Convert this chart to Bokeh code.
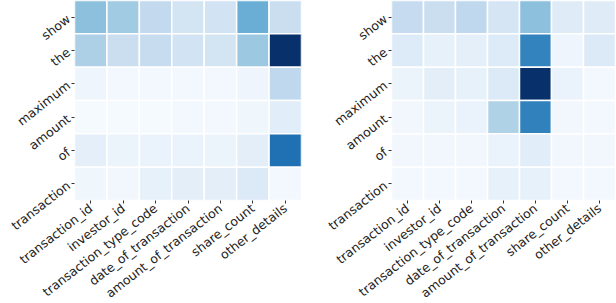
import math
from bokeh.plotting import figure
from bokeh.layouts import row
from bokeh.models import LinearColorMapper, ColumnDataSource
from bokeh.palettes import Blues256
from bokeh.embed import file_html
from bokeh.resources import INLINE

rows = ["show", "the", "maximum", "amount", "of", "transaction"]
cols = ["transaction_id", "investor_id", "transaction_type_code",
        "date_of_transaction", "amount_of_transaction", "share_count", "other_details"]

left_vals = [
    [0.42, 0.37, 0.26, 0.18, 0.19, 0.50, 0.23],
    [0.33, 0.23, 0.24, 0.19, 0.18, 0.38, 1.00],
    [0.05, 0.02, 0.02, 0.02, 0.02, 0.05, 0.27],
    [0.01, 0.01, 0.01, 0.02, 0.02, 0.04, 0.11],
    [0.09, 0.06, 0.07, 0.07, 0.06, 0.10, 0.75],
    [0.04, 0.03, 0.08, 0.10, 0.10, 0.14, 0.02],
]
right_vals = [
    [0.25, 0.23, 0.27, 0.17, 0.42, 0.12, 0.12],
    [0.13, 0.08, 0.09, 0.13, 0.68, 0.05, 0.14],
    [0.06, 0.10, 0.08, 0.14, 1.00, 0.07, 0.02],
    [0.03, 0.06, 0.07, 0.32, 0.69, 0.03, 0.02],
    [0.03, 0.03, 0.03, 0.07, 0.11, 0.03, 0.03],
    [0.02, 0.02, 0.02, 0.08, 0.08, 0.02, 0.02],
]

mapper = LinearColorMapper(palette=list(reversed(Blues256)), low=0, high=1)
FONT = "DejaVu Sans"


def make(vals, border_left, frame_w, border_right):
    xs, ys, vs = [], [], []
    for i, r in enumerate(rows):
        for j, c in enumerate(cols):
            xs.append(c); ys.append(r); vs.append(vals[i][j])
    src = ColumnDataSource(dict(x=xs, y=ys, v=vs))
    p = figure(x_range=cols, y_range=list(reversed(rows)),
               frame_width=frame_w, frame_height=200,
               min_border_left=border_left, min_border_right=border_right,
               min_border_top=0, min_border_bottom=0,
               output_backend="svg", toolbar_location=None)
    p.rect(x="x", y="y", width=1, height=1, source=src,
           fill_color={"field": "v", "transform": mapper},
           line_color="white", line_width=1.5)
    p.outline_line_color = None
    p.grid.grid_line_color = None
    for ax in (p.xaxis, p.yaxis):
        ax.axis_line_color = None
        ax.major_tick_line_color = "#333333"
        ax.major_tick_out = 3
        ax.major_tick_in = 0
        ax.minor_tick_line_color = None
        ax.major_label_text_font = FONT
        ax.major_label_text_font_size = "12.5px"
        ax.major_label_text_color = "#222222"
        ax.major_label_standoff = 3
    p.xaxis.major_label_orientation = math.radians(38)
    p.yaxis.major_label_orientation = math.radians(38)
    p.x_range.range_padding = 0
    p.y_range.range_padding = 0
    return p


p1 = make(left_vals, 69, 227, 16)
p2 = make(right_vals, 72, 224, 0)
layout = row(p1, p2)

open("out.html", "w").write(file_html(layout, INLINE))
